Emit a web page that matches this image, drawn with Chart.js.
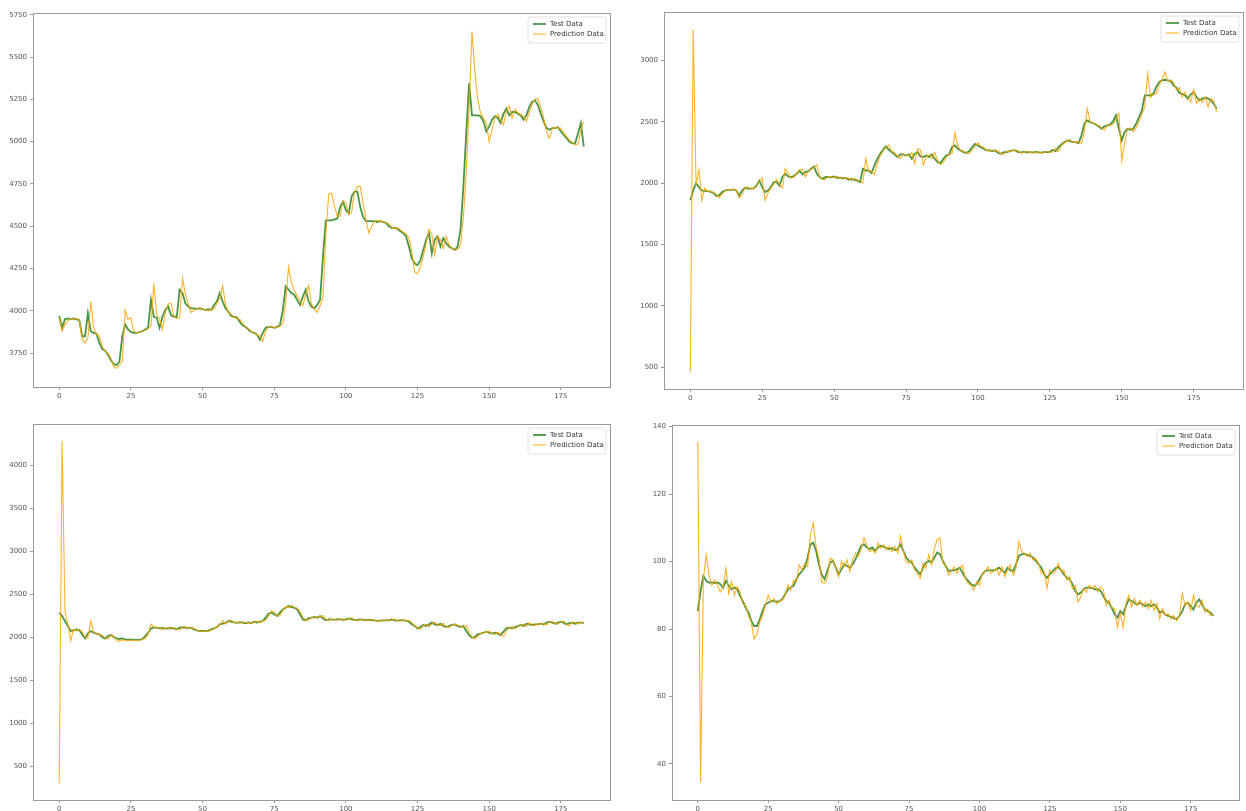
<!DOCTYPE html>
<html>
<head>
<meta charset="utf-8">
<script src="https://cdn.jsdelivr.net/npm/chart.js@4.4.0/dist/chart.umd.min.js"></script>
<style>
  body { margin: 0; background: #fff; width: 1246px; height: 811px; overflow: hidden; position: relative; }
  .panel { position: absolute; }
</style>
</head>
<body>
<div class="panel" style="left:0;top:0;width:620px;height:405px"><canvas id="c1"></canvas></div>
<div class="panel" style="left:625px;top:0;width:621px;height:405px"><canvas id="c2"></canvas></div>
<div class="panel" style="left:0;top:410px;width:620px;height:401px"><canvas id="c3"></canvas></div>
<div class="panel" style="left:625px;top:410px;width:621px;height:401px"><canvas id="c4"></canvas></div>
<script>
// series names
const seriesNames = ["Test Data", "Prediction Data"];

// x tick labels (shared)
const xTicks = [0, 25, 50, 75, 100, 125, 150, 175];

// panel 1 (top left)
const p1YTicks = [3750, 4000, 4250, 4500, 4750, 5000, 5250, 5500, 5750];
const p1Test = [
  3970, 3900, 3950, 3955, 3950, 3955, 3950, 3945, 3850, 3850,
  3985, 3880, 3870, 3865, 3810, 3775, 3765, 3740, 3710, 3685,
  3680, 3700, 3850, 3920, 3890, 3875, 3870, 3870, 3875, 3880,
  3890, 3900, 4065, 3965, 3960, 3900, 3965, 4005, 4025, 3975,
  3965, 3965, 4125, 4105, 4045, 4025, 4015, 4015, 4010, 4015,
  4010, 4005, 4010, 4005, 4035, 4055, 4105, 4055, 4015, 3995,
  3970, 3965, 3960, 3935, 3915, 3905, 3890, 3875, 3870, 3860,
  3830, 3870, 3900, 3905, 3905, 3900, 3905, 3915, 4005, 4145,
  4125, 4105, 4095, 4065, 4035, 4085, 4125, 4055, 4025, 4015,
  4035, 4065, 4320, 4535, 4535, 4535, 4540, 4545, 4615, 4645,
  4595, 4575, 4675, 4705, 4705, 4615, 4555, 4530, 4530, 4530,
  4530, 4525, 4530, 4525, 4520, 4500, 4490, 4490, 4485, 4470,
  4460, 4440, 4380, 4310, 4280, 4270, 4300, 4360, 4420, 4460,
  4340, 4420, 4440, 4380, 4430, 4400, 4380, 4370, 4360, 4380,
  4480, 4735, 5050, 5345, 5155, 5155, 5155, 5150, 5120, 5060,
  5090, 5130, 5150, 5140, 5110, 5165, 5195, 5155, 5175, 5175,
  5165, 5155, 5130, 5155, 5205, 5235, 5245, 5215, 5165, 5120,
  5080, 5070, 5080, 5080, 5085, 5060, 5040, 5020, 5000, 4990,
  4990, 5050, 5110, 4970
];
const p1Pred = [
  3955, 3880, 3920, 3945, 3950, 3950, 3955, 3950, 3830, 3810,
  3840, 4055, 3900, 3860, 3850, 3790, 3760, 3750, 3720, 3670,
  3660, 3680, 3700, 4005, 3950, 3960, 3880, 3870, 3875, 3880,
  3885, 3895, 3910, 4160, 3980, 3950, 3890, 3990, 4040, 4045,
  3965, 3955, 3960, 4195, 4100, 4040, 3990, 4005, 4010, 4020,
  4010, 4005, 4000, 4010, 4010, 4045, 4070, 4150, 4040, 3990,
  3980, 3960, 3955, 3950, 3925, 3905, 3895, 3880, 3865, 3860,
  3850, 3820, 3880, 3905, 3910, 3900, 3900, 3910, 3925, 4050,
  4260, 4170, 4120, 4090, 4060, 4030, 4100, 4150, 4040, 4010,
  3990, 4030, 4080, 4450, 4690, 4695, 4620, 4560, 4560, 4650,
  4640, 4570, 4580, 4700, 4735, 4735, 4640, 4540, 4460, 4500,
  4530, 4535, 4525, 4530, 4520, 4515, 4495, 4485, 4490, 4480,
  4465, 4455, 4430, 4350, 4230, 4220, 4260, 4320, 4400, 4480,
  4450, 4330, 4440, 4420, 4370, 4440, 4390, 4370, 4365, 4360,
  4390, 4550, 4820, 5200, 5650, 5420, 5250, 5170, 5140, 5110,
  5000, 5070, 5140, 5160, 5130, 5100, 5180, 5210, 5140, 5190,
  5170, 5160, 5150, 5120, 5170, 5220, 5250, 5255, 5200, 5140,
  5060, 5020, 5075, 5085, 5080, 5080, 5050, 5030, 5010, 4995,
  4980, 4985, 5070, 5120
];

// panel 2 (top right)
const p2YTicks = [500, 1000, 1500, 2000, 2500, 3000];
const p2Test = [
  1860, 1940, 2000, 1967, 1940, 1935, 1935, 1930, 1920, 1895,
  1900, 1927, 1940, 1945, 1945, 1948, 1940, 1900, 1940, 1962,
  1955, 1955, 1958, 1980, 2020, 1967, 1927, 1940, 1967, 2008,
  2008, 1980, 2050, 2076, 2054, 2050, 2058, 2076, 2100, 2070,
  2090, 2098, 2117, 2136, 2076, 2050, 2035, 2050, 2050, 2048,
  2054, 2043, 2045, 2040, 2043, 2027, 2035, 2027, 2022, 2008,
  2117, 2103, 2103, 2082, 2144, 2198, 2239, 2272, 2299, 2272,
  2253, 2234, 2212, 2234, 2234, 2225, 2234, 2198, 2239, 2253,
  2217, 2212, 2225, 2212, 2234, 2198, 2171, 2163, 2198, 2225,
  2234, 2293, 2307, 2280, 2266, 2253, 2245, 2261, 2293, 2320,
  2307, 2293, 2280, 2266, 2266, 2262, 2266, 2245, 2239, 2253,
  2253, 2261, 2266, 2266, 2253, 2250, 2255, 2250, 2252, 2248,
  2255, 2250, 2248, 2252, 2255, 2253, 2272, 2261, 2293, 2315,
  2334, 2348, 2342, 2334, 2334, 2326, 2389, 2484, 2511, 2497,
  2489, 2478, 2462, 2443, 2462, 2470, 2478, 2505, 2551, 2443,
  2348, 2416, 2443, 2435, 2443, 2484, 2538, 2592, 2715, 2715,
  2715, 2728, 2783, 2823, 2837, 2842, 2837, 2831, 2796, 2777,
  2734, 2728, 2715, 2688, 2723, 2742, 2701, 2674, 2688, 2696,
  2688, 2674, 2647, 2606
];
const p2Pred = [
  460, 3250, 1990, 2110, 1860, 1960, 1930, 1935, 1925, 1910,
  1880, 1910, 1935, 1950, 1945, 1950, 1945, 1880, 1905, 1965,
  1970, 1950, 1960, 1970, 2010, 2040, 1860, 1920, 1960, 1990,
  2030, 1990, 1960, 2120, 2080, 2040, 2050, 2080, 2110, 2110,
  2050, 2100, 2110, 2130, 2150, 2050, 2030, 2030, 2055, 2050,
  2045, 2055, 2040, 2045, 2040, 2045, 2020, 2040, 2025, 2020,
  2000, 2200, 2100, 2100, 2070, 2160, 2220, 2260, 2290, 2310,
  2260, 2250, 2220, 2200, 2240, 2230, 2220, 2250, 2160, 2280,
  2270, 2150, 2210, 2230, 2200, 2250, 2180, 2150, 2170, 2210,
  2240, 2240, 2410, 2300, 2270, 2260, 2250, 2240, 2270, 2300,
  2330, 2300, 2290, 2270, 2260, 2270, 2260, 2265, 2240, 2235,
  2260, 2255, 2265, 2270, 2265, 2245, 2250, 2258, 2248, 2255,
  2245, 2258, 2245, 2250, 2258, 2250, 2255, 2285, 2255, 2305,
  2325, 2345, 2355, 2335, 2330, 2340, 2320, 2420, 2610, 2500,
  2490, 2480, 2470, 2450, 2430, 2475, 2470, 2480, 2520, 2570,
  2185, 2330, 2440, 2450, 2420, 2450, 2500, 2560, 2620, 2890,
  2700, 2720, 2730, 2800, 2840, 2905, 2830, 2840, 2820, 2760,
  2780, 2700, 2740, 2700, 2660, 2760, 2650, 2690, 2660, 2700,
  2620, 2690, 2670, 2580
];

// panel 3 (bottom left)
const p3YTicks = [500, 1000, 1500, 2000, 2500, 3000, 3500, 4000];
const p3Test = [
  2283, 2244, 2186, 2128, 2070, 2078, 2089, 2078, 2031, 1984,
  2039, 2070, 2050, 2039, 2031, 2000, 1981, 2012, 2023, 2000,
  1984, 1977, 1984, 1973, 1969, 1969, 1970, 1968, 1969, 1977,
  2012, 2050, 2101, 2109, 2109, 2101, 2105, 2098, 2101, 2105,
  2101, 2089, 2109, 2112, 2109, 2105, 2109, 2089, 2078, 2070,
  2070, 2068, 2072, 2089, 2101, 2116, 2147, 2155, 2163, 2186,
  2178, 2170, 2165, 2172, 2168, 2160, 2170, 2163, 2178, 2167,
  2178, 2186, 2225, 2271, 2283, 2264, 2244, 2283, 2322, 2341,
  2360, 2349, 2341, 2322, 2264, 2205, 2194, 2217, 2225, 2233,
  2225, 2244, 2217, 2194, 2205, 2205, 2200, 2208, 2205, 2200,
  2205, 2217, 2205, 2200, 2198, 2205, 2200, 2195, 2200, 2198,
  2194, 2186, 2194, 2190, 2196, 2194, 2205, 2194, 2190, 2196,
  2194, 2190, 2178, 2147, 2128, 2101, 2116, 2140, 2128, 2147,
  2167, 2147, 2140, 2155, 2128, 2116, 2128, 2140, 2147, 2128,
  2116, 2128, 2070, 2023, 1992, 2000, 2031, 2039, 2050, 2062,
  2050, 2039, 2050, 2039, 2023, 2062, 2101, 2109, 2101, 2116,
  2128, 2140, 2128, 2155, 2147, 2140, 2147, 2147, 2155, 2147,
  2167, 2178, 2167, 2155, 2167, 2178, 2167, 2147, 2163, 2167,
  2155, 2167, 2167, 2163
];
const p3Pred = [
  300, 4280, 2300, 2150, 1955, 2090, 2070, 2090, 2060, 2000,
  1990, 2190, 2060, 2040, 2030, 2020, 1990, 1975, 2020, 2010,
  1960, 1950, 1970, 1960, 1955, 1962, 1965, 1960, 1963, 1970,
  1985, 2030, 2150, 2120, 2100, 2110, 2090, 2105, 2110, 2095,
  2110, 2100, 2080, 2115, 2120, 2100, 2110, 2100, 2080, 2070,
  2065, 2072, 2065, 2080, 2100, 2120, 2140, 2190, 2150, 2180,
  2200, 2165, 2175, 2160, 2175, 2170, 2160, 2175, 2165, 2185,
  2165, 2185, 2195, 2240, 2300, 2290, 2240, 2250, 2310, 2350,
  2345, 2370, 2345, 2335, 2300, 2230, 2190, 2200, 2230, 2220,
  2235, 2230, 2250, 2210, 2190, 2210, 2205, 2195, 2210, 2210,
  2195, 2210, 2225, 2200, 2195, 2200, 2210, 2195, 2190, 2205,
  2195, 2180, 2190, 2198, 2188, 2200, 2190, 2210, 2185, 2192,
  2200, 2185, 2192, 2170, 2130, 2110, 2090, 2130, 2150, 2120,
  2150, 2175, 2140, 2135, 2160, 2120, 2110, 2135, 2150, 2140,
  2125, 2110, 2135, 2060, 2000, 1980, 2010, 2040, 2045, 2060,
  2065, 2040, 2030, 2055, 2030, 2010, 2070, 2110, 2120, 2095,
  2120, 2135, 2150, 2120, 2165, 2140, 2135, 2155, 2145, 2160,
  2140, 2175, 2180, 2160, 2150, 2175, 2185, 2150, 2130, 2175,
  2165, 2150, 2175, 2165
];

// panel 4 (bottom right)
const p4YTicks = [40, 60, 80, 100, 120, 140];
const p4Test = [
  85.3, 91.3, 95.7, 94.3, 93.8, 93.8, 93.6, 93.8, 93.3, 92.3,
  94.3, 92.8, 91.8, 92.3, 91.8, 89.8, 88.3, 86.3, 84.9, 82.4,
  80.9, 80.9, 82.9, 85.3, 87.3, 87.8, 88.3, 88.3, 88.1, 88.3,
  88.8, 90.3, 91.8, 92.3, 92.8, 94.8, 96.2, 97.2, 98.2, 101.2,
  105.1, 105.6, 103.2, 99.2, 96.2, 94.8, 97.2, 99.7, 100.2, 98.2,
  96.2, 97.7, 99.2, 98.7, 98.2, 99.2, 100.7, 102.7, 104.7, 105.1,
  104.2, 103.7, 104.2, 103.2, 104.2, 104.7, 104.4, 104.0, 103.7, 104.0,
  103.4, 103.7, 105.1, 103.2, 101.2, 100.2, 99.7, 98.2, 97.2, 96.2,
  98.2, 99.7, 100.2, 99.7, 101.2, 102.7, 102.2, 100.2, 98.7, 97.2,
  97.4, 97.4, 97.7, 98.2, 96.7, 95.2, 94.3, 93.3, 92.8, 93.3,
  94.8, 96.2, 97.2, 97.4, 97.4, 97.4, 97.7, 98.2, 97.4, 96.7,
  98.2, 97.4, 97.2, 99.2, 101.7, 102.2, 102.2, 102.0, 101.7, 101.2,
  100.2, 99.2, 98.2, 96.2, 95.2, 96.2, 97.2, 98.0, 98.4, 97.4,
  96.2, 95.2, 94.8, 93.3, 91.3, 90.3, 90.8, 91.8, 92.3, 92.3,
  92.1, 91.8, 91.8, 91.3, 89.8, 88.3, 87.8, 86.3, 84.4, 83.4,
  85.3, 84.4, 86.8, 88.8, 88.3, 87.8, 87.3, 87.8, 87.3, 86.8,
  87.3, 86.8, 87.3, 86.3, 84.9, 85.3, 84.2, 83.9, 83.6, 83.2,
  82.9, 83.9, 85.3, 87.3, 87.8, 86.8, 85.8, 87.8, 88.8, 87.3,
  85.8, 85.3, 84.9, 83.9
];
const p4Pred = [
  135.5, 34.5, 95.0, 102.0, 96.0, 93.0, 94.5, 93.0, 91.0, 92.5,
  98.0, 90.5, 94.0, 90.0, 92.5, 91.0, 87.5, 87.0, 84.0, 82.0,
  77.0, 78.5, 82.0, 84.0, 87.0, 90.0, 88.0, 89.0, 87.5, 88.5,
  88.5, 90.0, 93.0, 91.5, 94.5, 94.0, 99.0, 97.5, 99.5, 98.5,
  108.0, 111.5, 104.5, 101.0, 94.0, 93.5, 95.0, 101.0, 100.5, 98.0,
  95.5, 100.0, 98.5, 100.5, 97.0, 100.5, 102.5, 101.5, 103.5, 107.0,
  105.0, 103.0, 103.5, 102.5, 105.5, 104.0, 105.0, 103.5, 104.5, 103.0,
  104.5, 102.5, 107.5, 103.0, 100.0, 99.5, 100.5, 97.5, 96.5, 95.0,
  99.5, 98.0, 102.0, 99.0, 104.0, 106.5, 107.0, 99.5, 99.0, 96.0,
  97.0, 98.5, 96.5, 98.0, 99.0, 95.0, 93.5, 93.0, 91.5, 94.0,
  93.0, 96.5, 97.0, 98.5, 96.5, 97.0, 98.0, 96.0, 98.5, 95.5,
  97.5, 99.0, 96.0, 98.0, 106.0, 103.0, 102.5, 101.5, 102.5, 100.5,
  101.0, 99.5, 96.5, 97.0, 92.0, 97.5, 96.5, 97.0, 99.5, 97.0,
  97.5, 94.5, 95.5, 92.0, 93.0, 88.0, 89.5, 92.0, 91.0, 93.0,
  92.0, 93.0, 91.0, 92.5, 91.5, 87.0, 88.5, 86.5, 86.0, 80.5,
  84.5, 80.5, 87.5, 90.0, 86.5, 89.0, 87.0, 88.5, 86.5, 88.0,
  86.0, 88.5, 85.5, 87.5, 83.0, 86.0, 84.0, 84.5, 83.0, 84.0,
  82.5, 84.0, 90.5, 87.0, 88.0, 85.5, 90.0, 87.0, 86.5, 88.5,
  85.0, 86.0, 84.0, 84.5
];

// colors
const testColor = "rgba(40,130,35,0.85)";
const predColor = "rgba(255,165,0,0.85)";
const spineColor = "#9a9a9a";
const tickColor = "#555";
const chartFont = "DejaVu Sans";

// frame on all four sides + legend inside the top right corner
const framePlugin = {
  id: "frame",
  afterDraw(chart) {
    const ctx = chart.ctx;
    const a = chart.chartArea;
    ctx.save();
    ctx.strokeStyle = spineColor;
    ctx.lineWidth = 1;
    ctx.strokeRect(Math.round(a.left) + 0.5, Math.round(a.top) + 0.5,
      Math.round(a.right - a.left), Math.round(a.bottom - a.top));

    // legend
    const w = 78, h = 26;
    const x = a.right - w - 4, y = a.top + 4;
    ctx.fillStyle = "rgba(255,255,255,0.85)";
    ctx.strokeStyle = "#e0e0e0";
    ctx.beginPath();
    ctx.roundRect(x, y, w, h, 2);
    ctx.fill();
    ctx.stroke();
    ctx.font = "7px " + chartFont;
    ctx.textBaseline = "middle";
    chart.data.datasets.forEach((ds, i) => {
      const ly = y + 7 + i * 10;
      ctx.strokeStyle = ds.borderColor;
      ctx.lineWidth = ds.borderWidth;
      ctx.beginPath();
      ctx.moveTo(x + 5, ly);
      ctx.lineTo(x + 18, ly);
      ctx.stroke();
      ctx.fillStyle = "#333";
      ctx.fillText(ds.label, x + 22, ly);
    });
    ctx.restore();
  }
};

function drawPanel(canvasId, test, pred, yMin, yMax, yTicks, yWidth, xHeight, padTop, padRight) {
  const ctx = document.getElementById(canvasId).getContext("2d");
  const sampleIndex = test.map((_, i) => i);
  return new Chart(ctx, {
    type: "line",
    data: {
      labels: sampleIndex,
      datasets: [
        { label: seriesNames[0], data: test, borderColor: testColor, borderWidth: 1.8, order: 2 },
        { label: seriesNames[1], data: pred, borderColor: predColor, borderWidth: 1.1, order: 1 }
      ]
    },
    options: {
      responsive: true,
      maintainAspectRatio: false,
      animation: false,
      events: [],
      elements: { point: { radius: 0 }, line: { tension: 0 } },
      layout: { padding: { top: padTop, right: padRight, left: 0, bottom: 0 } },
      plugins: { legend: { display: false }, tooltip: { enabled: false } },
      scales: {
        x: {
          type: "linear",
          min: -9.15,
          max: 192.15,
          afterBuildTicks: (s) => { s.ticks = xTicks.map(v => ({ value: v })); },
          afterFit: (s) => { s.height = xHeight; },
          grid: { display: true, drawOnChartArea: false, tickLength: 3, color: spineColor },
          border: { display: false },
          ticks: {
            color: tickColor, font: { family: chartFont, size: 7 }, padding: 2, maxRotation: 0,
            callback: (v) => String(v)
          }
        },
        y: {
          min: yMin,
          max: yMax,
          afterBuildTicks: (s) => { s.ticks = yTicks.map(v => ({ value: v })); },
          afterFit: (s) => { s.width = yWidth; },
          grid: { display: true, drawOnChartArea: false, tickLength: 3, color: spineColor },
          border: { display: false },
          ticks: {
            color: tickColor, font: { family: chartFont, size: 7 }, padding: 3,
            callback: (v) => String(v)
          }
        }
      }
    },
    plugins: [framePlugin]
  });
}

drawPanel("c1", p1Test, p1Pred, 3550, 5760, p1YTicks, 33, 18, 13, 10);
drawPanel("c2", p2Test, p2Pred, 323, 3394, p2YTicks, 39, 16, 12, 3);
drawPanel("c3", p3Test, p3Pred, 105, 4477, p3YTicks, 33, 11, 14, 10);
drawPanel("c4", p4Test, p4Pred, 29.3, 140.5, p4YTicks, 47, 11, 15, 7);
</script>
</body>
</html>
